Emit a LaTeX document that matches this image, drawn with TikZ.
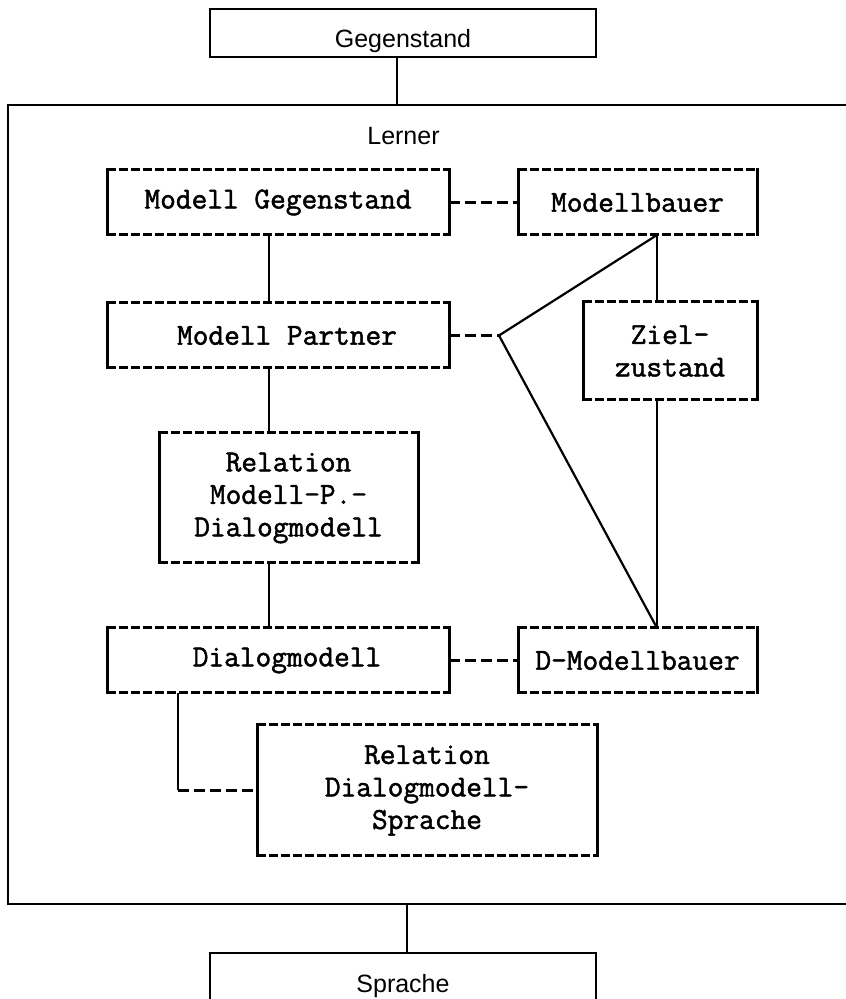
\documentclass[tikz,border=0pt]{standalone}
\usepackage{fontspec}
\setmainfont{Liberation Sans}
\newfontfamily\tw{Latin Modern Mono}[FakeBold=1.6]
\begin{document}
\begin{tikzpicture}[x=1pt,y=1pt,
  plain/.style={draw=black,line width=2.2pt,minimum width=#1,inner sep=0pt,outer sep=0pt},
  dbox/.style={draw=none,inner sep=0pt,outer sep=0pt,align=center,
    font=\tw\fontsize{30.5}{32.5}\selectfont},
  hedge/.style={line width=3pt,dash pattern=on 9pt off 3pt},
  vedge/.style={line width=3pt,line cap=rect},
  conn/.style={line width=2.2pt},
  dconn/.style={line width=2.4pt,dash pattern=on 11pt off 5pt},
  lab/.style={font=\fontsize{25}{28}\selectfont,anchor=base,inner sep=0pt}]
\useasboundingbox (0,0) rectangle (846,999);

% outer frame boxes
\node[plain=386pt,minimum height=48pt] (geg) at (403,966) {};
\node[lab] at (403,951) {Gegenstand};
\node[plain=848pt,minimum height=799pt] (lern) at (432,494.5) {};
\node[lab] at (403.5,854) {Lerner};
\node[plain=386pt,minimum height=62pt] (spr) at (403,15) {};
\node[lab] at (403,6) {Sprache};

% inner boxes with dashed horizontal edges
\node[dbox,minimum width=342pt,minimum height=65pt] (mg) at (278,796.5) {Modell Gegenstand};
\node[dbox,minimum width=239pt,minimum height=65pt] (mb) at (637.5,796.5) {Modellbauer};
\node[dbox,minimum width=342pt,minimum height=65pt] (mp) at (278,663.5) {\hspace*{18pt}Modell Partner};
\node[dbox,minimum width=174pt,minimum height=98pt] (zz) at (670,648) {Ziel-\\zustand};
\node[dbox,minimum width=259pt,minimum height=130pt] (rmp) at (288.5,501) {Relation\\Modell-P.-\\Dialogmodell};
\node[dbox,minimum width=342pt,minimum height=65pt] (dm) at (278,338.5) {\hspace*{18pt}Dialogmodell};
\node[dbox,minimum width=239pt,minimum height=65pt] (dmb) at (637.5,338.5) {D-Modellbauer};
\node[dbox,minimum width=340pt,minimum height=131pt] (rds) at (427,208.5) {Relation\\Dialogmodell-\\Sprache};

\foreach \n in {mg,mb,mp,zz,rmp,dm,dmb,rds}{
  \draw[hedge] (\n.north west) -- (\n.north east);
  \draw[hedge] (\n.south west) -- (\n.south east);
  \draw[vedge] (\n.north west) -- (\n.south west);
  \draw[vedge] (\n.north east) -- (\n.south east);
}

% reference x positions of vertical connectors
\coordinate (xt) at (397,0);
\coordinate (xb) at (407,0);
\coordinate (xl) at (269,0);
\coordinate (xr) at (657,0);
\coordinate (xd) at (178,0);
\coordinate (J) at (499,663.5);

% connectors
\draw[conn] (geg.south -| xt) -- (lern.north -| xt);
\draw[conn] (lern.south -| xb) -- (spr.north -| xb);

\draw[dconn] (mg.east) -- (mb.west);
\draw[conn] (mg.south -| xl) -- (mp.north -| xl);
\draw[dconn] (mp.east) -- (J);
\draw[conn] (J) -- (mb.south -| xr);
\draw[conn] (J) -- (dmb.north -| xr);
\draw[conn] (mb.south -| xr) -- (zz.north -| xr);
\draw[conn] (zz.south -| xr) -- (dmb.north -| xr);
\draw[conn] (mp.south -| xl) -- (rmp.north -| xl);
\draw[conn] (rmp.south -| xl) -- (dm.north -| xl);
\draw[dconn] (dm.east) -- (dmb.west);
\draw[conn] (dm.south -| xd) -- (xd |- rds.west);
\draw[dconn] (xd |- rds.west) -- (rds.west);
\end{tikzpicture}
\end{document}
